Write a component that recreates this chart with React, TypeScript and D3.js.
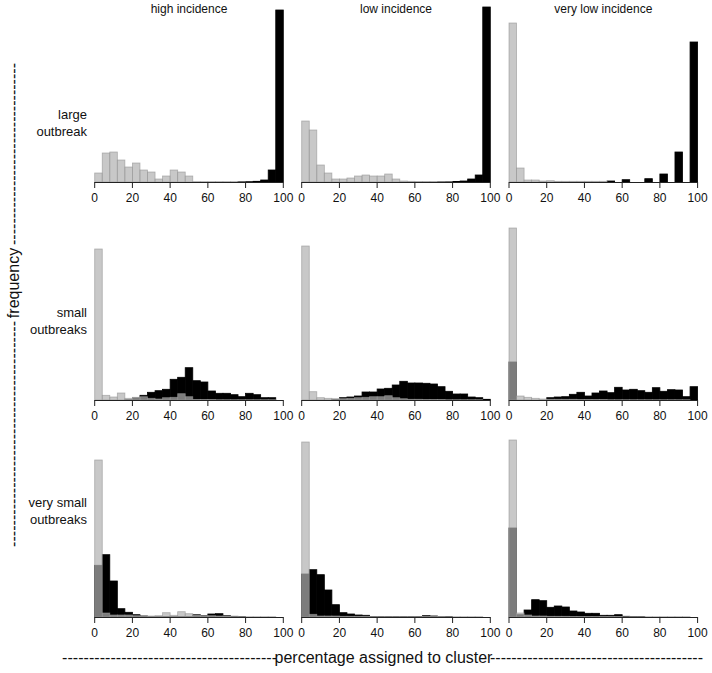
import React from "react";
import * as d3 from "d3";

// column / row labels
const columnTitles = ["high incidence", "low incidence", "very low incidence"];
const rowTitles = [["large", "outbreak"], ["small", "outbreaks"], ["very small", "outbreaks"]];
const xTicks = [0, 20, 40, 60, 80, 100];
const binWidth = 4; // histogram bins of 4 percentage points, 0..100

// ---- row 1: large outbreak ----
const hiLargeGrey = [9, 29, 30, 22, 15, 19, 12, 10, 3, 6, 12, 10, 6, 0.4, 0.4, 0.4, 0.4, 0.4, 0.4, 0.4, 0, 0, 0, 0, 0];
const hiLargeBlack = [0, 0, 0, 0, 0, 0, 0, 0, 0, 0, 0, 0, 0, 0, 0, 0, 0, 0, 0, 0.5, 0.3, 0.7, 2, 12, 172];
const loLargeGrey = [61, 52, 17, 9, 3, 3, 4, 6, 7, 6, 6, 8, 3, 1, 0.7, 0.5, 0.5, 0.5, 0.5, 0.3, 0, 0, 0, 0, 0];
const loLargeBlack = [0, 0, 0, 0, 0, 0, 0, 0, 0, 0, 0, 0, 0, 0, 0, 0, 0, 0, 0.3, 0.3, 0.5, 1, 3, 7, 175];
const vloLargeGrey = [159, 14, 2, 2, 1, 1.3, 0.7, 0.7, 0.7, 0.7, 0.7, 0.7, 0.7, 0, 0, 0, 0, 0, 0, 0, 0, 0, 0, 0, 0];
const vloLargeBlack = [0, 0, 0, 0, 0, 0, 0, 0, 0, 0, 0, 0, 0, 1, 0, 2.3, 0, 0, 3.3, 0, 8, 0, 30, 0, 140];

// ---- row 2: small outbreaks ----
const hiSmallGrey = [151, 4.7, 3, 7, 1.7, 2.7, 3.3, 1.7, 1, 2.3, 2.7, 6.3, 3.3, 0.5, 0.5, 0.5, 0.3, 0.3, 0.3, 0.3, 0.3, 0.3, 0.3, 0.3, 0];
const hiSmallBlack = [0, 0, 0, 0, 0.3, 2, 4.7, 7.7, 9.3, 10.7, 20.7, 22.7, 32.3, 19.3, 18, 9, 6.7, 6.7, 5.3, 3.3, 6.7, 5.3, 2.3, 2.3, 0];
const loSmallGrey = [154, 8.3, 2.3, 1.7, 1.3, 1.3, 1.7, 2.3, 2.7, 3.3, 3.3, 4.3, 2.3, 1.3, 0.7, 0.7, 0.5, 0.5, 0.5, 0.3, 0.3, 0.3, 0.3, 0.3, 0];
const loSmallBlack = [0, 0, 0, 0, 0.5, 2.3, 3, 4, 8, 8, 11, 11.7, 15, 18.7, 17, 17, 16.7, 16, 13.3, 8.7, 6, 6, 3, 2.3, 0.7];
const vloSmallGrey = [172, 4, 2.7, 1.7, 1, 0.7, 0.7, 0.7, 0.7, 0.5, 0.5, 0.5, 0.5, 0.3, 0.3, 0.3, 0.3, 0.3, 0.3, 0.3, 0.3, 0.3, 0.3, 0.3, 0];
const vloSmallBlack = [38, 0, 0, 0, 0, 2.3, 3, 3.3, 5.7, 7.7, 4, 7, 9, 7.3, 12.7, 10, 10.7, 9.3, 7.7, 12.3, 8.7, 10.3, 10, 3.3, 13.3];

// ---- row 3: very small outbreaks ----
const hiVsGrey = [157, 4, 2, 2, 2, 1.3, 0.7, 1, 1.3, 4.3, 1.7, 5.3, 3.3, 2, 1.3, 1.3, 1, 1, 0.5, 0.5, 0.3, 0.3, 0.3, 0.3, 0];
const hiVsBlack = [51.7, 62.3, 36, 8.3, 4.7, 2.3, 1, 0.3, 0.3, 0.3, 0.3, 0.3, 0.3, 2.3, 1.3, 3, 3.3, 1.3, 0.7, 0.5, 0, 0, 0, 0, 0];
const loVsGrey = [175, 2.7, 1, 1, 1, 0.7, 0.7, 0.7, 0.7, 0.5, 0.5, 0.5, 0.5, 0.5, 0.5, 0.5, 0.5, 0.5, 0.5, 0.3, 0.3, 0.3, 0.3, 0.3, 0];
const loVsBlack = [43, 47.3, 42.3, 27, 12.3, 4.3, 3, 2, 1.7, 0.5, 0.5, 0.5, 0.5, 0.5, 0.5, 0.5, 1.3, 1, 0.3, 0.3, 0, 0, 0, 0, 0];
const vloVsGrey = [177, 4, 2, 1, 1, 0.7, 0.7, 0.7, 0.5, 0.5, 0.5, 0.5, 0.5, 0.5, 0.5, 0.3, 0.3, 0.3, 0.3, 0.3, 0.3, 0.3, 0.3, 0.3, 0];
const vloVsBlack = [89, 2.3, 7, 17.3, 16.3, 9.7, 11, 10, 6, 5, 3.7, 3.7, 1.7, 1.7, 2.3, 0.7, 0.3, 0.3, 0, 0, 0, 0, 0, 0, 0];

const panels = [
  [
    { grey: hiLargeGrey, black: hiLargeBlack },
    { grey: loLargeGrey, black: loLargeBlack },
    { grey: vloLargeGrey, black: vloLargeBlack },
  ],
  [
    { grey: hiSmallGrey, black: hiSmallBlack },
    { grey: loSmallGrey, black: loSmallBlack },
    { grey: vloSmallGrey, black: vloSmallBlack },
  ],
  [
    { grey: hiVsGrey, black: hiVsBlack },
    { grey: loVsGrey, black: loVsBlack },
    { grey: vloVsGrey, black: vloVsBlack },
  ],
];

const W = 712;
const H = 673;
const colX0 = [94.7, 301.7, 509];
const panelW = 188.6;
const rowBase = [182, 400, 617];
const yMax = 180;
const FONT = "'Liberation Sans', Arial, sans-serif";

function Panel({ x0, base, grey, black }: { x0: number; base: number; grey: number[]; black: number[] }) {
  const x = d3.scaleLinear().domain([0, 100]).range([x0, x0 + panelW]);
  const y = d3.scaleLinear().domain([0, yMax]).range([base, base - yMax]);
  const bar = (v: number, i: number) => ({
    x: x(i * binWidth),
    w: x((i + 1) * binWidth) - x(i * binWidth),
    y: y(v),
    h: y(0) - y(v),
  });
  return (
    <g>
      {black.map((v, i) => {
        const b = bar(v, i);
        return <rect key={"b" + i} x={b.x} y={b.y} width={b.w} height={b.h} fill="#000" stroke="#000" strokeWidth={0.8} />;
      })}
      {grey.map((v, i) => {
        const b = bar(v, i);
        return (
          <rect key={"g" + i} x={b.x} y={b.y} width={b.w} height={b.h} fill="rgb(177,177,177)" fillOpacity={0.7} stroke="rgb(150,150,150)" strokeOpacity={0.7} strokeWidth={0.8} />
        );
      })}
      <line x1={x(0)} x2={x(100)} y1={base + 0.5} y2={base + 0.5} stroke="#222" strokeWidth={1} />
      {xTicks.map((t) => (
        <g key={t}>
          <line x1={x(t)} x2={x(t)} y1={base} y2={base + 6} stroke="#222" strokeWidth={1} />
          <text x={x(t)} y={base + 19.5} textAnchor="middle" fontSize={12} fontFamily={FONT} fill="#111">
            {t}
          </text>
        </g>
      ))}
    </g>
  );
}

export default function App() {
  const dashes = (n: number) => "-".repeat(n);
  return (
    <svg width={W} height={H} style={{ position: "absolute", left: 0, top: 0, background: "#fff" }}>
      <rect width={W} height={H} fill="#fff" />
      {columnTitles.map((t, c) => (
        <text key={t} x={colX0[c] + panelW / 2} y={13} textAnchor="middle" fontSize={12} fontFamily={FONT} fill="#111">
          {t}
        </text>
      ))}
      {rowTitles.map((lines, r) => (
        <text key={r} textAnchor="end" fontSize={13} fontFamily={FONT} fill="#111">
          {lines.map((l, k) => (
            <tspan key={k} x={87} y={[119, 317, 507][r] + k * 17}>
              {l}
            </tspan>
          ))}
        </text>
      ))}
      {panels.map((row, r) =>
        row.map((p, c) => <Panel key={r + "-" + c} x0={colX0[c]} base={rowBase[r]} grey={p.grey} black={p.black} />)
      )}
      {/* y label */}
      <g transform="translate(18.5,0) rotate(-90)" fontFamily={FONT} fontSize={16} fill="#111">
        <text x={-547} y={0} textLength={547 - 321} lengthAdjust="spacing">
          {dashes(42)}
        </text>
        <text x={-283} y={0} textAnchor="middle">
          frequency
        </text>
        <text x={-245} y={0} textLength={245 - 63} lengthAdjust="spacing">
          {dashes(34)}
        </text>
      </g>
      {/* x label */}
      <g fontFamily={FONT} fontSize={16} fill="#111">
        <text x={62} y={663} textLength={277 - 62} lengthAdjust="spacing">
          {dashes(40)}
        </text>
        <text x={383.5} y={663} textAnchor="middle">
          percentage assigned to cluster
        </text>
        <text x={490} y={663} textLength={703 - 490} lengthAdjust="spacing">
          {dashes(40)}
        </text>
      </g>
    </svg>
  );
}
